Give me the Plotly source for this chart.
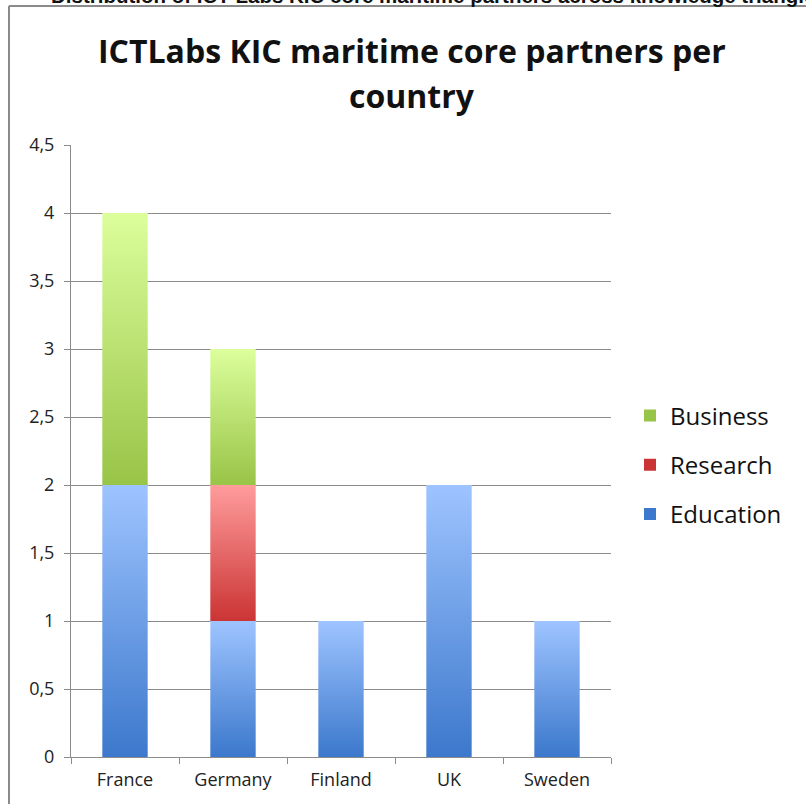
import plotly.graph_objects as go

countries = ["France", "Germany", "Finland", "UK", "Sweden"]
education = [2, 1, 1, 2, 1]
research = [0, 1, 0, 0, 0]
business = [2, 1, 0, 0, 0]

series = [
    ("Education", education, "#3C78CC", "#9EC4FF"),
    ("Research", research, "#CB3434", "#FF9C9C"),
    ("Business", business, "#98C447", "#DCFE9C"),
]

title_lines = ["ICTLabs KIC maritime core partners per", "country"]
top_text = "Distribution of ICT Labs KIC core maritime partners across knowledge triangle"

FONT = "Open Sans"
half = 0.21

fig = go.Figure()
base = [0.0] * len(countries)
for name, vals, dark, light in series:
    for i, v in enumerate(vals):
        if v <= 0:
            continue
        y0, y1 = base[i], base[i] + v
        fig.add_trace(go.Scatter(
            x=[i - half, i + half, i + half, i - half, i - half],
            y=[y0, y0, y1, y1, y0],
            mode="lines", line=dict(width=0),
            fill="toself",
            fillgradient=dict(type="vertical", colorscale=[[0, dark], [1, light]]),
            showlegend=False, hoverinfo="skip",
        ))
        base[i] = y1

# legend entries
for k, (name, vals, dark, light) in enumerate(reversed(series)):
    fig.add_trace(go.Bar(x=[None], y=[None], name=name, legendgroup="g%d" % k,
                         marker=dict(color=dark, line=dict(width=0))))

W, H = 806, 804
L, R, T, B = 71, 611, 145, 757
pw, ph = R - L, B - T

def px(x):
    return (x - L) / pw

def py(y):
    return (B - y) / ph

fig.update_layout(
    width=W, height=H,
    margin=dict(l=L, r=W - R, t=T, b=H - B),
    paper_bgcolor="white", plot_bgcolor="white",
    separators=", ",
    font=dict(family=FONT, color="#222222"),
    showlegend=True,
    legend=dict(x=px(630), y=py(465), xanchor="left", yanchor="middle",
                font=dict(size=24, family=FONT, color="#111111"),
                itemsizing="constant", tracegroupgap=15, traceorder="grouped",
                bgcolor="rgba(0,0,0,0)"),
    xaxis=dict(range=[-0.5, len(countries) - 0.5], tickvals=list(range(len(countries))),
               ticktext=countries, ticks="", showgrid=False, zeroline=False,
               showline=True, linecolor="#8c8c8c", linewidth=1,
               tickfont=dict(size=18, family=FONT, color="#222222"),
               ticklabelstandoff=6,
               minor=dict(tickvals=[k - 0.5 for k in range(len(countries) + 1)],
                          ticks="outside", ticklen=6, tickcolor="#8c8c8c", showgrid=False),
               fixedrange=True),
    yaxis=dict(range=[0, 4.5], dtick=0.5, tick0=0, showgrid=True, gridcolor="#8c8c8c",
               gridwidth=1, zeroline=False, showline=True, linecolor="#8c8c8c", linewidth=1,
               ticks="outside", ticklen=6, tickcolor="#8c8c8c",
               tickfont=dict(size=18, family=FONT, color="#222222"),
               ticklabelstandoff=6, fixedrange=True),
)

fig.add_annotation(text="<b>%s</b>" % title_lines[0], xref="paper", yref="paper",
                   x=px(412), y=py(50), xanchor="center", yanchor="middle",
                   showarrow=False, font=dict(size=32, family=FONT, color="#111111"))
fig.add_annotation(text="<b>%s</b>" % title_lines[1], xref="paper", yref="paper",
                   x=px(412), y=py(95), xanchor="center", yanchor="middle",
                   showarrow=False, font=dict(size=32, family=FONT, color="#111111"))
fig.add_annotation(text="<b>%s</b>" % top_text, xref="paper", yref="paper",
                   x=px(49), y=py(-5), xanchor="left", yanchor="middle",
                   showarrow=False, font=dict(size=20.5, family="Liberation Sans", color="#111111"))

fig.add_shape(type="line", xref="paper", yref="paper", x0=px(9), x1=px(9), y0=py(6), y1=py(810),
              line=dict(color="#8a8a8a", width=2))
fig.add_shape(type="line", xref="paper", yref="paper", x0=px(9), x1=px(810), y0=py(6), y1=py(6),
              line=dict(color="#8a8a8a", width=2))

fig.write_html("out.html", config={"displayModeBar": False},
               post_script="document.body.style.margin='0';document.body.style.overflow='hidden';")
